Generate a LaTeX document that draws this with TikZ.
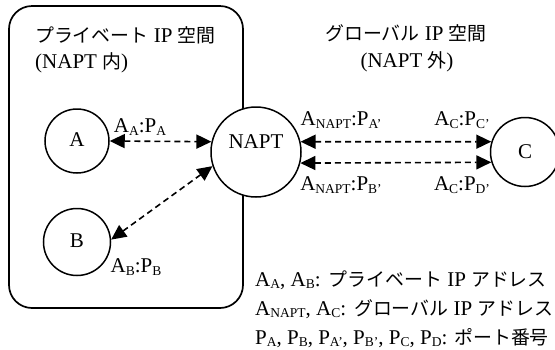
\documentclass[tikz,border=0pt]{standalone}
\usepackage{fontspec}
\setmainfont{Liberation Serif}
\newfontfamily\jp[Scale=0.9]{Noto Sans CJK JP}
\usetikzlibrary{arrows.meta}
\newcommand{\lsub}[1]{\raisebox{-0.25ex}{\fontsize{13.5}{13.5}\selectfont #1}}
\tikzset{
  host/.style={draw, circle, line width=1.5pt, fill=white, inner sep=0pt},
  link/.style={line width=1.6pt, dash pattern=on 6pt off 4pt, {Triangle[length=15pt,width=14pt]}-{Triangle[length=15pt,width=14pt]}},
  txt/.style={inner sep=0pt, font=\fontsize{21}{25}\selectfont},
  zone/.style={draw, line width=1.7pt, rounded corners=23pt}
}
\begin{document}
\begin{tikzpicture}[x=1pt,y=-1pt]
\useasboundingbox (0,0) rectangle (555,349);
\draw[zone] (9,6) rectangle (243,308);
\node[txt, anchor=west] (t1) at (35,35) {{\jp プライベート} IP {\jp 空間}};
\node[txt, anchor=west] (t2) at (35,63) {(NAPT {\jp 内})};
\node[txt] (t3) at (406,33) {{\jp グローバル} IP {\jp 空間}};
\node[txt] (t4) at (407,62) {(NAPT {\jp 外})};

\node[host, minimum size=64pt] (A) at (77,141) {};
\node[txt] (Al) at (77,140) {A};
\node[host, minimum size=67pt] (B) at (77,242) {};
\node[txt] (Bl) at (77,241) {B};
\node[host, minimum size=90pt] (N) at (256,152) {};
\node[txt] (Nl) at (256,142) {NAPT};
\node[host, minimum size=69pt] (C) at (525,152) {};
\node[txt] (Cl) at (525,152) {C};

\draw[link] (A.east) -- (N.167);
\draw[link] (N.198) -- (B.4);
\draw[link] (N.13) -- (C.163);
\draw[link] (N.-14) -- (C.197);

\node[txt] (l1) at (140,127) {A\lsub{A}:P\lsub{A}};
\node[txt] (l2) at (136,267) {A\lsub{B}:P\lsub{B}};
\node[txt] (l3) at (341,120) {A\lsub{NAPT}:P\lsub{A’}};
\node[txt] (l4) at (462,120) {A\lsub{C}:P\lsub{C’}};
\node[txt] (l5) at (341,185) {A\lsub{NAPT}:P\lsub{B’}};
\node[txt] (l6) at (462,185) {A\lsub{C}:P\lsub{D’}};

\node[txt, anchor=west] (g1) at (255,280) {A\lsub{A}, A\lsub{B}:\hspace{8pt}{\jp プライベート} IP {\jp アドレス}};
\node[txt, anchor=west] (g2) at (255,309) {A\lsub{NAPT}, A\lsub{C}:\hspace{8pt}{\jp グローバル} IP {\jp アドレス}};
\node[txt, anchor=west] (g3) at (255,338) {P\lsub{A}, P\lsub{B}, P\lsub{A’}, P\lsub{B’}, P\lsub{C}, P\lsub{D}:\hspace{7pt}{\jp ポート番号}};
\end{tikzpicture}
\end{document}
